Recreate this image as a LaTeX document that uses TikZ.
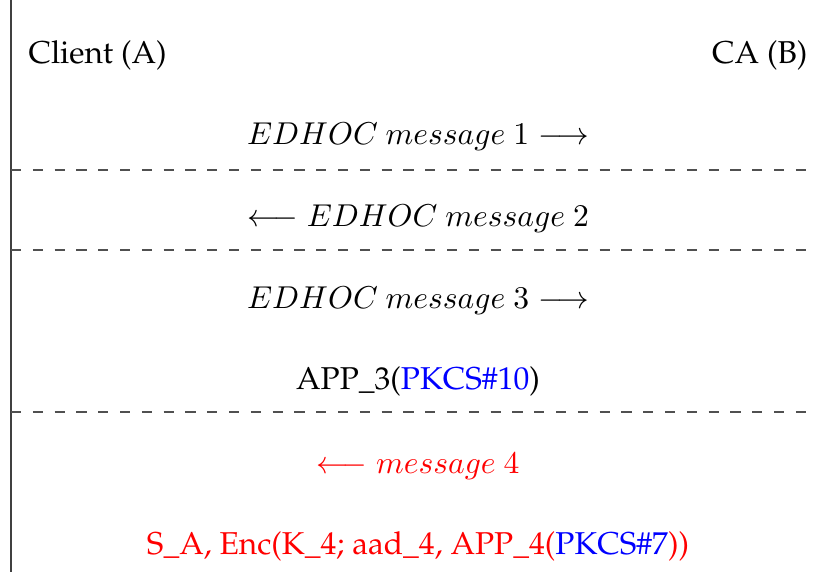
\documentclass[tikz,border=0pt]{standalone}
\usepackage[T1]{fontenc}
\renewcommand{\rmdefault}{ppl}
\definecolor{rulegray}{HTML}{404040}
\definecolor{dashgray}{HTML}{505050}
\tikzset{
  lbl/.style={inner sep=0pt, font=\normalsize},
  sepline/.style={draw=dashgray, line width=0.4pt, dash pattern=on 3.2pt off 3.7pt},
  msg4/.style={lbl, text=red}
}
\begin{document}
\begin{tikzpicture}[x=0.3165pt, y=-0.3165pt]
  \useasboundingbox (0,0) rectangle (815,572);
  % left rule of the exchange table
  \coordinate (ltop) at (11,0);
  \coordinate (lbot) at (11,572);
  \draw[draw=rulegray, line width=0.45pt] (ltop) -- (lbot);

  % parties
  \node[lbl, anchor=west] (cli) at (28,55) {Client (A)};
  \node[lbl, anchor=east] (ca) at (808,55) {CA (B)};

  % messages
  \node[lbl] (m1) at (418,137) {$EDHOC\ message\ 1 \longrightarrow$};
  \node[lbl] (m2) at (418,219) {$\longleftarrow EDHOC\ message\ 2$};
  \node[lbl] (m3) at (418,301) {$EDHOC\ message\ 3 \longrightarrow$};
  \node[lbl] (app3) at (418,381) {APP\_3(\textcolor{blue}{PKCS\#10})};
  \node[msg4] (m4) at (418,466) {$\longleftarrow message\ 4$};
  \node[msg4] (app4) at (418,546) {S\_A, Enc(K\_4; aad\_4, APP\_4(\textcolor{blue}{PKCS\#7}))};

  % separators
  \coordinate (s1l) at (11,170);  \coordinate (s1r) at (810,170);
  \coordinate (s2l) at (11,250);  \coordinate (s2r) at (810,250);
  \coordinate (s3l) at (11,412);  \coordinate (s3r) at (810,412);
  \draw[sepline] (s1l) -- (s1r);
  \draw[sepline] (s2l) -- (s2r);
  \draw[sepline] (s3l) -- (s3r);
\end{tikzpicture}
\end{document}
